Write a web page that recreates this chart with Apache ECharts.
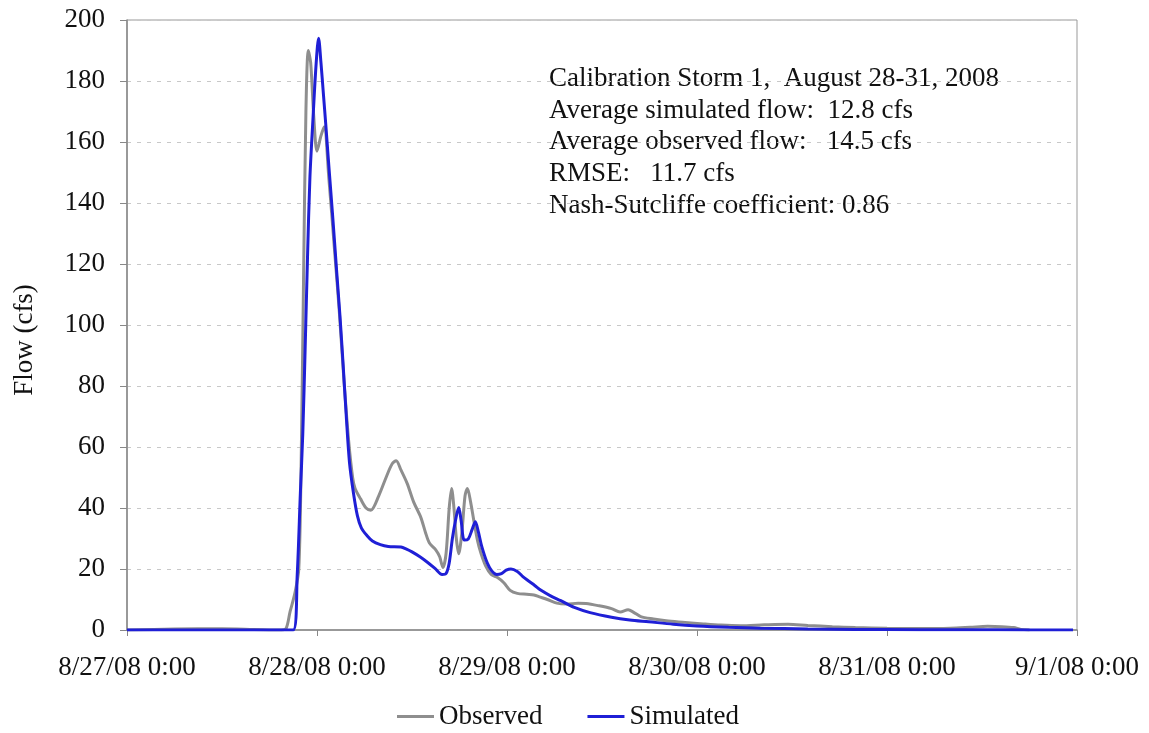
<!DOCTYPE html>
<html>
<head>
<meta charset="utf-8">
<script src="https://cdn.jsdelivr.net/npm/echarts@6/dist/echarts.min.js"></script>
<style>html,body{margin:0;padding:0;background:#fff;}#c{width:1149px;height:733px;}</style>
</head>
<body>
<div id="c"></div>
<script>
// Hours since 8/27/08 0:00
const xTickLabels = ['8/27/08 0:00','8/28/08 0:00','8/29/08 0:00','8/30/08 0:00','8/31/08 0:00','9/1/08 0:00'];
const yTicks = [0,20,40,60,80,100,120,140,160,180,200];
const yAxisTitle = 'Flow (cfs)';

const observedHours = [0,6,12,16,19.5,20.1,20.6,21.2,21.7,22.0,22.3,22.6,22.9,23.2,23.6,24.0,24.5,24.9,25.5,26.2,26.8,27.4,28.0,28.5,28.8,29.5,30.2,30.8,31.8,32.8,33.5,34.0,34.6,35.4,36.2,37.1,37.7,38.2,39.0,39.5,39.9,40.3,40.7,41.0,41.3,41.6,41.9,42.3,42.7,43.0,43.4,43.8,44.3,44.7,45.3,46.0,46.8,47.6,48.4,49.3,50.5,51.4,52.2,53.1,54.3,55.5,57,58,59.5,61.2,62.3,63.3,64.0,64.9,66.5,68.1,70.5,72.8,75,77.5,80.5,83.5,86,89.1,92,96,100,104,106.5,108.7,110.5,112,112.9,114];
const observedFlow = [0,0.3,0.4,0.2,0,0.5,6,12,20,55,115,170,190,186,168,157,162,165,148,125,105,82,62,50,46.5,43,40,39.3,44,50.5,54.5,55.5,52.5,48,42,37,32,28.5,26.3,24,20.5,25,40,46.4,40,30,25,32,44,46.4,42,36,29,25.2,21,18.2,17.2,15.5,13,12,11.7,11.5,10.8,10,8.8,8.5,8.8,8.7,8,7.0,5.9,6.6,5.8,4.4,3.6,3.0,2.5,2.0,1.6,1.4,1.7,1.9,1.5,1.1,0.8,0.55,0.5,0.6,0.9,1.2,1.1,0.8,0.2,0];

const simulatedHours = [0,21.0,21.5,21.9,22.2,22.5,22.8,23.1,23.5,23.9,24.2,24.5,24.8,25.1,25.5,26.0,26.5,26.9,27.3,27.7,28.1,28.6,29.1,29.6,30.3,31.0,32.0,33.0,34.6,35.3,36.0,37.0,37.9,38.9,39.8,40.3,40.7,41.1,41.5,41.9,42.2,42.6,43.1,43.6,44.0,44.4,44.8,45.5,46.1,46.7,47.3,47.9,48.5,49.3,50.0,50.6,51.5,52.3,53.5,54.8,56.5,58.5,61.2,63.5,65.9,69,72,76,80,86,92,100,110,119.5];
const simulatedFlow = [0,0,18,45,64,92,122,148,168,186,194,186,176,166,152,135,117,103,87,70,55,45,37.5,33.5,31,29.2,28,27.4,27.2,26.5,25.6,24,22.3,20.2,18.2,18.5,22,30,36,40.2,36,29.5,29.8,33,35.5,32,27.5,22,19.3,18.2,18.5,19.6,20,19.2,17.5,16.3,14.6,13.0,11.2,9.6,7.4,5.7,4.2,3.3,2.7,1.9,1.35,0.9,0.6,0.35,0.2,0.1,0.05,0];

const annotationLines = [
  'Calibration Storm 1,  August 28-31, 2008',
  'Average simulated flow:  12.8 cfs',
  'Average observed flow:   14.5 cfs',
  'RMSE:   11.7 cfs',
  'Nash-Sutcliffe coefficient: 0.86'
];

const pair = (xs, ys) => xs.map((x, i) => [x, ys[i]]);
const FONT = '"Liberation Serif", "DejaVu Serif", serif';

const chart = echarts.init(document.getElementById('c'), null, {renderer: 'canvas'});
chart.setOption({
  backgroundColor: '#fff',
  animation: false,
  grid: {left: 127, right: 72, top: 20, bottom: 103, show: true, borderColor: '#999', borderWidth: 1},
  xAxis: {
    type: 'value', min: 0, max: 120, interval: 24,
    axisLine: {lineStyle: {color: '#888', width: 1.5}},
    axisTick: {show: true, inside: false, length: 6, lineStyle: {color: '#888'}},
    splitLine: {show: false},
    axisLabel: {
      color: '#111', fontFamily: FONT, fontSize: 27, margin: 24,
      formatter: v => xTickLabels[Math.round(v / 24)]
    }
  },
  yAxis: {
    type: 'value', min: yTicks[0], max: yTicks[yTicks.length - 1], interval: 20,
    axisLine: {show: true, lineStyle: {color: '#888', width: 1.5}},
    axisTick: {show: true, inside: false, length: 7, lineStyle: {color: '#888'}},
    splitLine: {show: true, lineStyle: {color: '#c8c8c8', type: [4, 6], width: 1}},
    axisLabel: {color: '#111', fontFamily: FONT, fontSize: 27, margin: 22}
  },
  legend: {
    top: 698, left: 392, itemWidth: 37, itemHeight: 3, itemGap: 45,
    icon: 'rect',
    textStyle: {color: '#111', fontFamily: FONT, fontSize: 27},
    data: ['Observed', 'Simulated']
  },
  graphic: [
    {
      type: 'text', left: 549, top: 63,
      style: {
        text: annotationLines.join('\n'),
        fill: '#111', font: '27px ' + FONT, lineHeight: 31.7
      }
    },
    {
      type: 'text', x: 25, y: 340, rotation: Math.PI / 2,
      style: {
        text: yAxisTitle, fill: '#111', font: '27px ' + FONT,
        align: 'center', verticalAlign: 'middle'
      }
    }
  ],
  series: [
    {
      name: 'Observed', type: 'line', data: pair(observedHours, observedFlow),
      symbol: 'none', smooth: 0.3,
      lineStyle: {color: '#8e8e8e', width: 3}, itemStyle: {color: '#8e8e8e'}
    },
    {
      name: 'Simulated', type: 'line', data: pair(simulatedHours, simulatedFlow),
      symbol: 'none', smooth: 0.3,
      lineStyle: {color: '#1f1fd6', width: 3}, itemStyle: {color: '#1f1fd6'}
    }
  ]
});
</script>
</body>
</html>
